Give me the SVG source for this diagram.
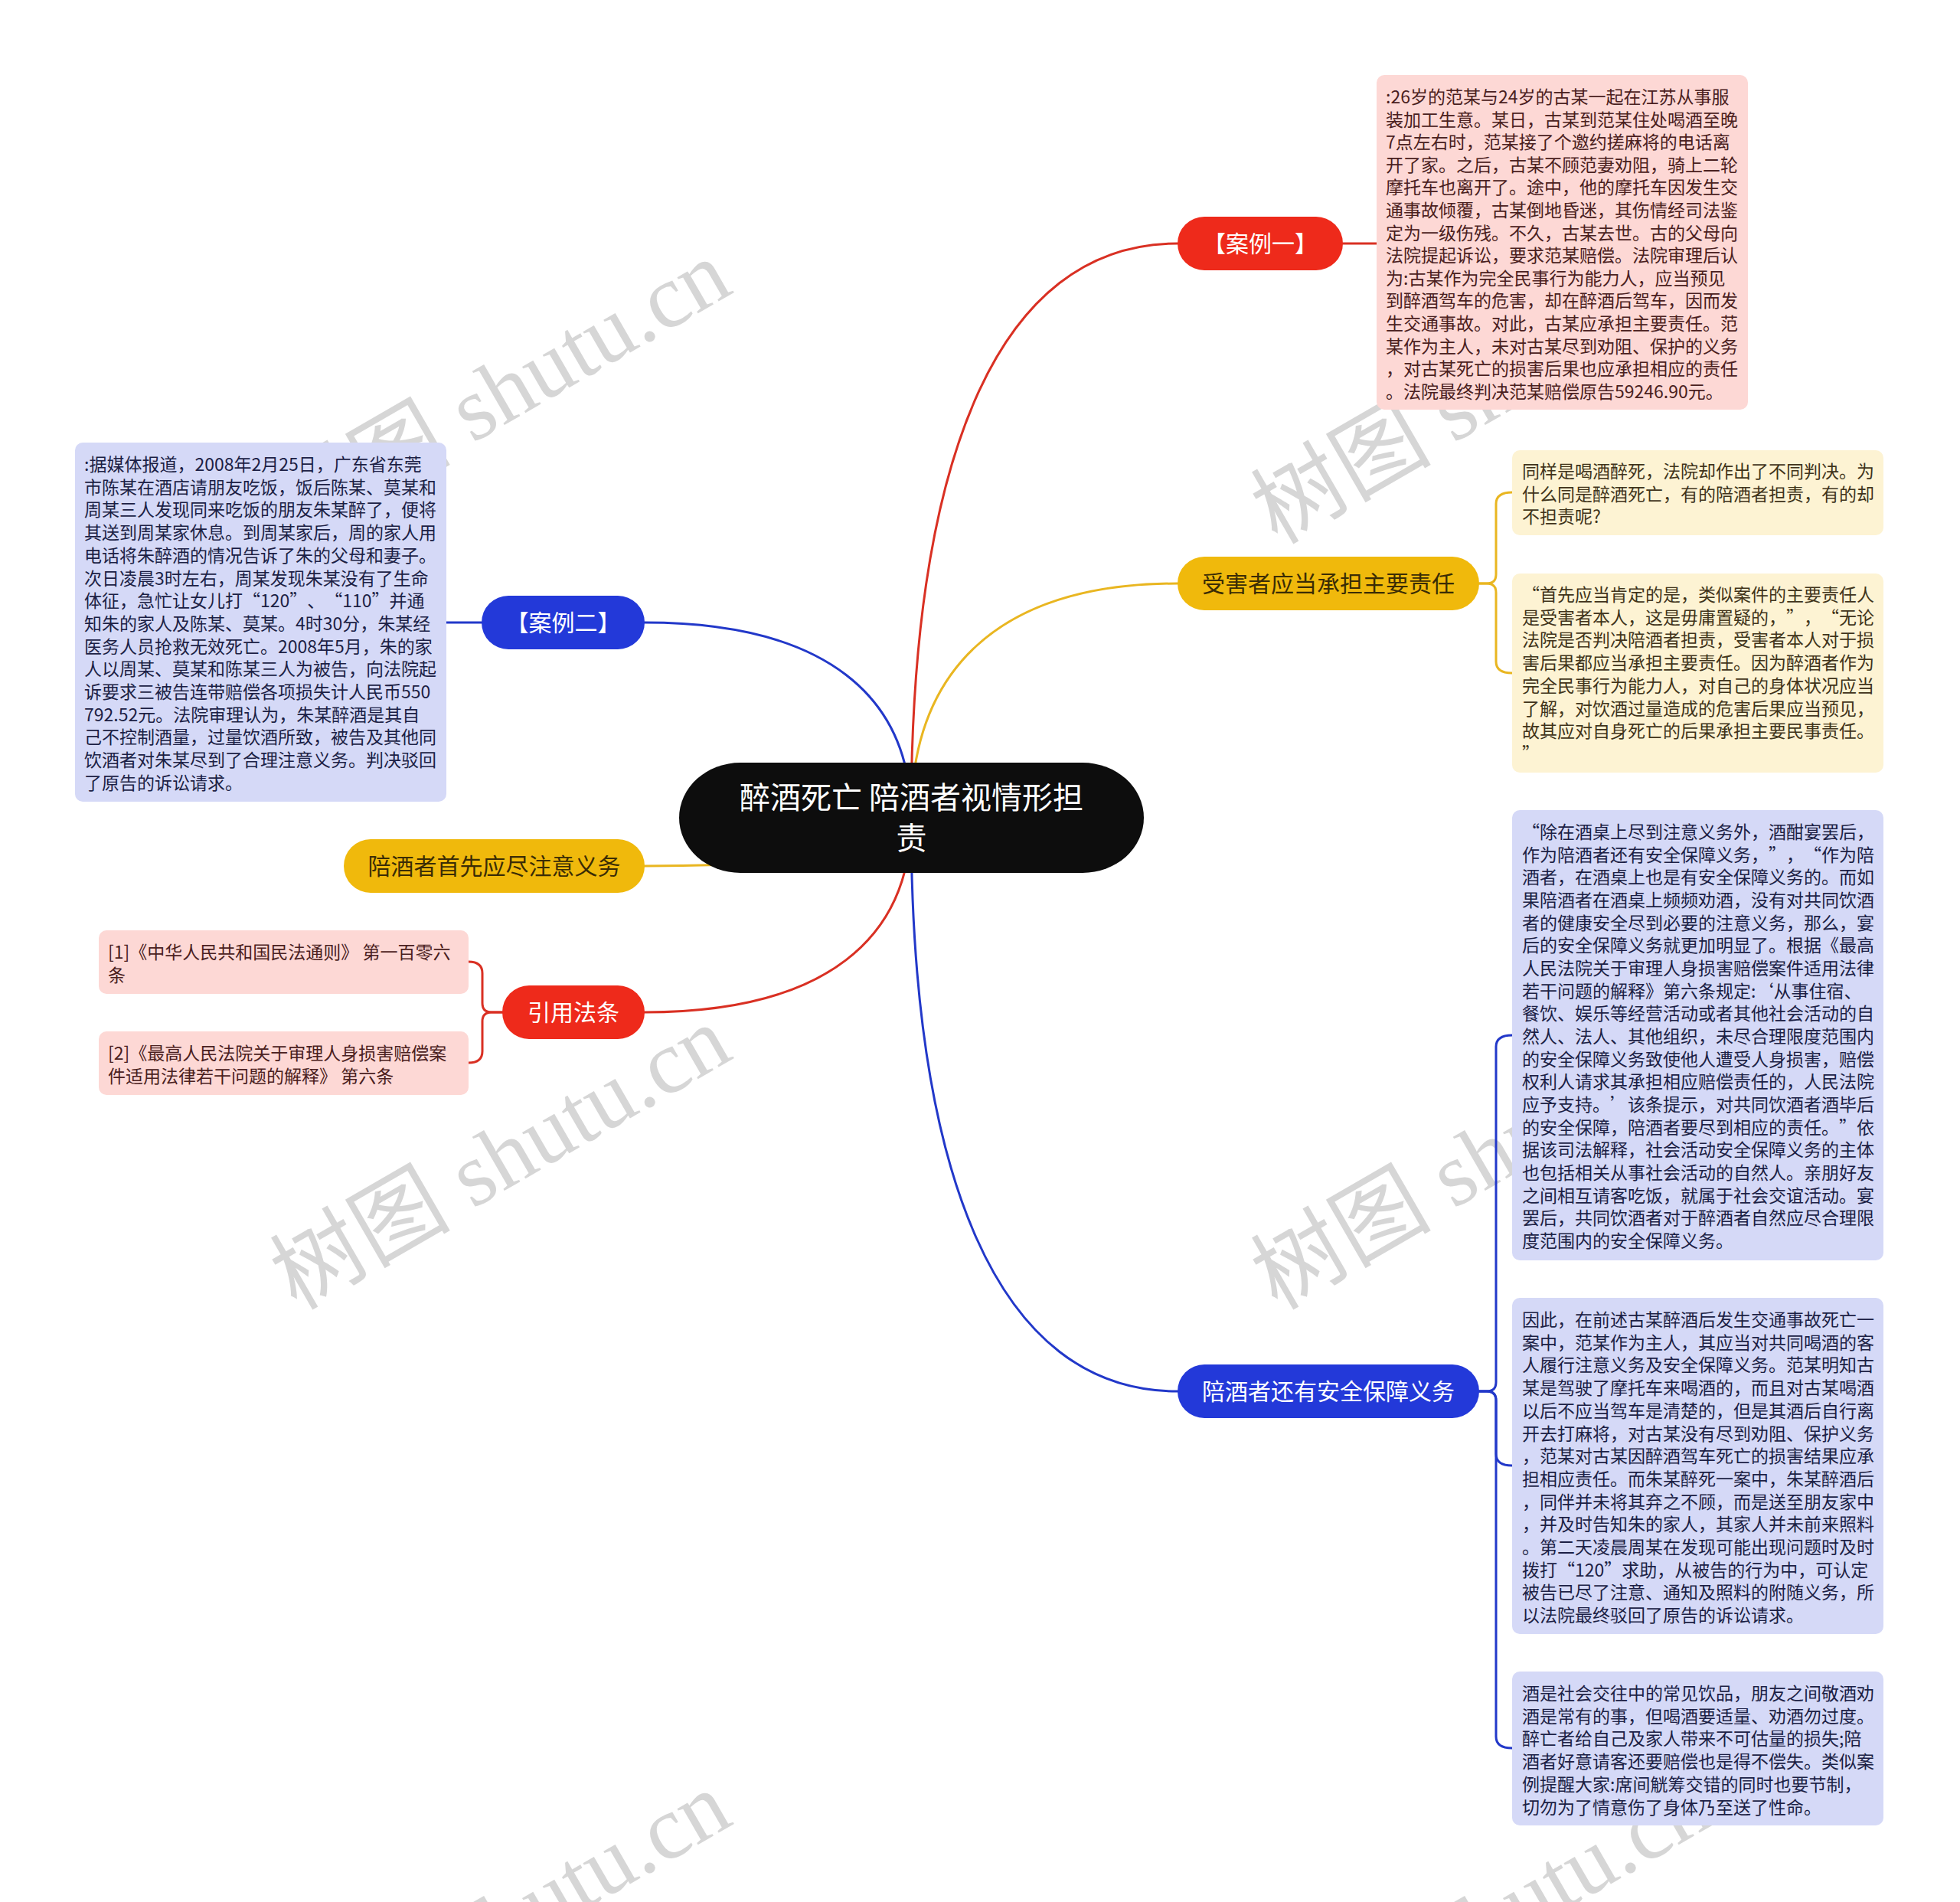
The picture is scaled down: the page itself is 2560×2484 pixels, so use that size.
<svg xmlns="http://www.w3.org/2000/svg" width="2560" height="2484" viewBox="0 0 2560 2484">
<style>
text{font-family:"Noto Sans CJK SC","Noto Sans",sans-serif;text-spacing-trim:space-all;}
.wm{font-family:"Liberation Serif","Noto Sans CJK SC",serif;font-size:118px;fill:#d6d6d6;}
.c{fill:none;stroke-width:3;stroke-linecap:round}
.r{stroke:#d93023}.y{stroke:#e9b621}.b{stroke:#2238c9}
.leaf{font-size:23px}
.pk{fill:#fdd8d5}.lv{fill:#d5d9f7}.cr{fill:#fdf3d3}
.tp{fill:#4a2020}.tl{fill:#1c1f45}.tc{fill:#40331a}
.bn{font-size:30px;text-anchor:middle}
.nr{fill:#ee2a1b}.ny{fill:#f0b90c}.nb{fill:#2339d9}
.w{fill:#ffffff}.d{fill:#3a2c05}
</style>
<rect x="0" y="0" width="2560" height="2484" fill="#ffffff"/>
<g id="watermarks">
<text class="wm" transform="translate(387,1712) rotate(-30)">树图 shutu.cn</text>
<text class="wm" transform="translate(387,712) rotate(-30)">树图 shutu.cn</text>
<text class="wm" transform="translate(387,2712) rotate(-30)">树图 shutu.cn</text>
<text class="wm" transform="translate(1668,712) rotate(-30)">树图 shutu.cn</text>
<text class="wm" transform="translate(1668,1712) rotate(-30)">树图 shutu.cn</text>
<text class="wm" transform="translate(1668,2712) rotate(-30)">树图 shutu.cn</text>
</g>
<g id="connectors">
<path class="c r" d="M1190,1068 C1190,603 1301,318 1538,318"/>
<path class="c y" d="M1190,1068 C1190,878 1301,762 1538,762"/>
<path class="c b" d="M1190,1068 C1190,1532 1301,1817 1538,1817"/>
<path class="c b" d="M1190,1068 C1190,910 1079,813 842,813"/>
<path class="c y" d="M1190,1068 C1190,1107 1079,1131 842,1131"/>
<path class="c r" d="M1190,1068 C1190,1225 1079,1322 842,1322"/>
<path class="c r" d="M1754,318 L1798,318"/>
<path class="c b" d="M629,813 L583,813"/>
<path class="c y" d="M1932,762 L1942,762 Q1954,762 1954,750 L1954,658 Q1954,643 1975,643"/>
<path class="c y" d="M1932,762 L1942,762 Q1954,762 1954,774 L1954,864 Q1954,879 1975,879"/>
<path class="c b" d="M1932,1817 L1942,1817 Q1954,1817 1954,1805 L1954,1367 Q1954,1352 1975,1352"/>
<path class="c b" d="M1932,1817 L1942,1817 Q1954,1817 1954,1829 L1954,1899 Q1954,1914 1975,1914"/>
<path class="c b" d="M1932,1817 L1942,1817 Q1954,1817 1954,1829 L1954,2268 Q1954,2283 1975,2283"/>
<path class="c r" d="M656,1322 L642,1322 Q630,1322 630,1310 L630,1271 Q630,1256 612,1256"/>
<path class="c r" d="M656,1322 L642,1322 Q630,1322 630,1334 L630,1373 Q630,1388 612,1388"/>
</g>
<g id="center">
<rect x="887" y="996" width="607" height="144" rx="80" ry="72" fill="#0d0d0d"/>
<text x="1190.5" y="1056" font-size="40" text-anchor="middle" class="w">醉酒死亡 陪酒者视情形担</text>
<text x="1190.5" y="1109" font-size="40" text-anchor="middle" class="w">责</text>
</g>
<g id="case1">
<rect class="nr" x="1538" y="283" width="216" height="70" rx="35"/>
<text class="bn w" x="1646" y="329">【案例一】</text>
</g>
<g id="victim">
<rect class="ny" x="1538" y="727" width="394" height="70" rx="35"/>
<text class="bn d" x="1735" y="773">受害者应当承担主要责任</text>
</g>
<g id="safety">
<rect class="nb" x="1538" y="1782" width="394" height="70" rx="35"/>
<text class="bn w" x="1735" y="1828">陪酒者还有安全保障义务</text>
</g>
<g id="case2">
<rect class="nb" x="629" y="778" width="213" height="70" rx="35"/>
<text class="bn w" x="735.5" y="824">【案例二】</text>
</g>
<g id="attention">
<rect class="ny" x="449" y="1096" width="393" height="70" rx="35"/>
<text class="bn d" x="645.5" y="1142">陪酒者首先应尽注意义务</text>
</g>
<g id="laws">
<rect class="nr" x="656" y="1287" width="186" height="70" rx="35"/>
<text class="bn w" x="749" y="1333">引用法条</text>
</g>
<g id="case1-text">
<rect class="pk" x="1798" y="98" width="485" height="437" rx="10"/>
<text class="leaf tp" x="1810" y="135">
<tspan x="1810" dy="0">:26岁的范某与24岁的古某一起在江苏从事服</tspan>
<tspan x="1810" dy="29.6">装加工生意。某日，古某到范某住处喝酒至晚</tspan>
<tspan x="1810" dy="29.6">7点左右时，范某接了个邀约搓麻将的电话离</tspan>
<tspan x="1810" dy="29.6">开了家。之后，古某不顾范妻劝阻，骑上二轮</tspan>
<tspan x="1810" dy="29.6">摩托车也离开了。途中，他的摩托车因发生交</tspan>
<tspan x="1810" dy="29.6">通事故倾覆，古某倒地昏迷，其伤情经司法鉴</tspan>
<tspan x="1810" dy="29.6">定为一级伤残。不久，古某去世。古的父母向</tspan>
<tspan x="1810" dy="29.6">法院提起诉讼，要求范某赔偿。法院审理后认</tspan>
<tspan x="1810" dy="29.6">为:古某作为完全民事行为能力人，应当预见</tspan>
<tspan x="1810" dy="29.6">到醉酒驾车的危害，却在醉酒后驾车，因而发</tspan>
<tspan x="1810" dy="29.6">生交通事故。对此，古某应承担主要责任。范</tspan>
<tspan x="1810" dy="29.6">某作为主人，未对古某尽到劝阻、保护的义务</tspan>
<tspan x="1810" dy="29.6">，对古某死亡的损害后果也应承担相应的责任</tspan>
<tspan x="1810" dy="29.6">。法院最终判决范某赔偿原告59246.90元。</tspan>
</text>
</g>
<g id="case2-text">
<rect class="lv" x="98" y="578" width="485" height="469" rx="10"/>
<text class="leaf tl" x="110" y="615">
<tspan x="110" dy="0">:据媒体报道，2008年2月25日，广东省东莞</tspan>
<tspan x="110" dy="29.7">市陈某在酒店请朋友吃饭，饭后陈某、莫某和</tspan>
<tspan x="110" dy="29.7">周某三人发现同来吃饭的朋友朱某醉了，便将</tspan>
<tspan x="110" dy="29.7">其送到周某家休息。到周某家后，周的家人用</tspan>
<tspan x="110" dy="29.7">电话将朱醉酒的情况告诉了朱的父母和妻子。</tspan>
<tspan x="110" dy="29.7">次日凌晨3时左右，周某发现朱某没有了生命</tspan>
<tspan x="110" dy="29.7">体征，急忙让女儿打“120”、“110”并通</tspan>
<tspan x="110" dy="29.7">知朱的家人及陈某、莫某。4时30分，朱某经</tspan>
<tspan x="110" dy="29.7">医务人员抢救无效死亡。2008年5月，朱的家</tspan>
<tspan x="110" dy="29.7">人以周某、莫某和陈某三人为被告，向法院起</tspan>
<tspan x="110" dy="29.7">诉要求三被告连带赔偿各项损失计人民币550</tspan>
<tspan x="110" dy="29.7">792.52元。法院审理认为，朱某醉酒是其自</tspan>
<tspan x="110" dy="29.7">己不控制酒量，过量饮酒所致，被告及其他同</tspan>
<tspan x="110" dy="29.7">饮酒者对朱某尽到了合理注意义务。判决驳回</tspan>
<tspan x="110" dy="29.7">了原告的诉讼请求。</tspan>
</text>
</g>
<g id="victim-text1">
<rect class="cr" x="1975" y="588" width="485" height="111" rx="10"/>
<text class="leaf tc" x="1988" y="624">
<tspan x="1988" dy="0">同样是喝酒醉死，法院却作出了不同判决。为</tspan>
<tspan x="1988" dy="29.7">什么同是醉酒死亡，有的陪酒者担责，有的却</tspan>
<tspan x="1988" dy="29.7">不担责呢?</tspan>
</text>
</g>
<g id="victim-text2">
<rect class="cr" x="1975" y="749" width="485" height="260" rx="10"/>
<text class="leaf tc" x="1988" y="785">
<tspan x="1988" dy="0">“首先应当肯定的是，类似案件的主要责任人</tspan>
<tspan x="1988" dy="29.7">是受害者本人，这是毋庸置疑的，”，“无论</tspan>
<tspan x="1988" dy="29.7">法院是否判决陪酒者担责，受害者本人对于损</tspan>
<tspan x="1988" dy="29.7">害后果都应当承担主要责任。因为醉酒者作为</tspan>
<tspan x="1988" dy="29.7">完全民事行为能力人，对自己的身体状况应当</tspan>
<tspan x="1988" dy="29.7">了解，对饮酒过量造成的危害后果应当预见，</tspan>
<tspan x="1988" dy="29.7">故其应对自身死亡的后果承担主要民事责任。</tspan>
<tspan x="1988" dy="29.7">”</tspan>
</text>
</g>
<g id="safety-text1">
<rect class="lv" x="1975" y="1058" width="485" height="588" rx="10"/>
<text class="leaf tl" x="1988" y="1095">
<tspan x="1988" dy="0">“除在酒桌上尽到注意义务外，酒酣宴罢后，</tspan>
<tspan x="1988" dy="29.67">作为陪酒者还有安全保障义务，”，“作为陪</tspan>
<tspan x="1988" dy="29.67">酒者，在酒桌上也是有安全保障义务的。而如</tspan>
<tspan x="1988" dy="29.67">果陪酒者在酒桌上频频劝酒，没有对共同饮酒</tspan>
<tspan x="1988" dy="29.67">者的健康安全尽到必要的注意义务，那么，宴</tspan>
<tspan x="1988" dy="29.67">后的安全保障义务就更加明显了。根据《最高</tspan>
<tspan x="1988" dy="29.67">人民法院关于审理人身损害赔偿案件适用法律</tspan>
<tspan x="1988" dy="29.67">若干问题的解释》第六条规定:‘从事住宿、</tspan>
<tspan x="1988" dy="29.67">餐饮、娱乐等经营活动或者其他社会活动的自</tspan>
<tspan x="1988" dy="29.67">然人、法人、其他组织，未尽合理限度范围内</tspan>
<tspan x="1988" dy="29.67">的安全保障义务致使他人遭受人身损害，赔偿</tspan>
<tspan x="1988" dy="29.67">权利人请求其承担相应赔偿责任的，人民法院</tspan>
<tspan x="1988" dy="29.67">应予支持。’该条提示，对共同饮酒者酒毕后</tspan>
<tspan x="1988" dy="29.67">的安全保障，陪酒者要尽到相应的责任。”依</tspan>
<tspan x="1988" dy="29.67">据该司法解释，社会活动安全保障义务的主体</tspan>
<tspan x="1988" dy="29.67">也包括相关从事社会活动的自然人。亲朋好友</tspan>
<tspan x="1988" dy="29.67">之间相互请客吃饭，就属于社会交谊活动。宴</tspan>
<tspan x="1988" dy="29.67">罢后，共同饮酒者对于醉酒者自然应尽合理限</tspan>
<tspan x="1988" dy="29.67">度范围内的安全保障义务。</tspan>
</text>
</g>
<g id="safety-text2">
<rect class="lv" x="1975" y="1695" width="485" height="439" rx="10"/>
<text class="leaf tl" x="1988" y="1732">
<tspan x="1988" dy="0">因此，在前述古某醉酒后发生交通事故死亡一</tspan>
<tspan x="1988" dy="29.7">案中，范某作为主人，其应当对共同喝酒的客</tspan>
<tspan x="1988" dy="29.7">人履行注意义务及安全保障义务。范某明知古</tspan>
<tspan x="1988" dy="29.7">某是驾驶了摩托车来喝酒的，而且对古某喝酒</tspan>
<tspan x="1988" dy="29.7">以后不应当驾车是清楚的，但是其酒后自行离</tspan>
<tspan x="1988" dy="29.7">开去打麻将，对古某没有尽到劝阻、保护义务</tspan>
<tspan x="1988" dy="29.7">，范某对古某因醉酒驾车死亡的损害结果应承</tspan>
<tspan x="1988" dy="29.7">担相应责任。而朱某醉死一案中，朱某醉酒后</tspan>
<tspan x="1988" dy="29.7">，同伴并未将其弃之不顾，而是送至朋友家中</tspan>
<tspan x="1988" dy="29.7">，并及时告知朱的家人，其家人并未前来照料</tspan>
<tspan x="1988" dy="29.7">。第二天凌晨周某在发现可能出现问题时及时</tspan>
<tspan x="1988" dy="29.7">拨打“120”求助，从被告的行为中，可认定</tspan>
<tspan x="1988" dy="29.7">被告已尽了注意、通知及照料的附随义务，所</tspan>
<tspan x="1988" dy="29.7">以法院最终驳回了原告的诉讼请求。</tspan>
</text>
</g>
<g id="safety-text3">
<rect class="lv" x="1975" y="2183" width="485" height="201" rx="10"/>
<text class="leaf tl" x="1988" y="2220">
<tspan x="1988" dy="0">酒是社会交往中的常见饮品，朋友之间敬酒劝</tspan>
<tspan x="1988" dy="29.7">酒是常有的事，但喝酒要适量、劝酒勿过度。</tspan>
<tspan x="1988" dy="29.7">醉亡者给自己及家人带来不可估量的损失;陪</tspan>
<tspan x="1988" dy="29.7">酒者好意请客还要赔偿也是得不偿失。类似案</tspan>
<tspan x="1988" dy="29.7">例提醒大家:席间觥筹交错的同时也要节制，</tspan>
<tspan x="1988" dy="29.7">切勿为了情意伤了身体乃至送了性命。</tspan>
</text>
</g>
<g id="law1">
<rect class="pk" x="129" y="1215" width="483" height="83" rx="10"/>
<text class="leaf tp" x="141" y="1252">
<tspan x="141" dy="0">[1]《中华人民共和国民法通则》 第一百零六</tspan>
<tspan x="141" dy="30">条</tspan>
</text>
</g>
<g id="law2">
<rect class="pk" x="129" y="1347" width="483" height="83" rx="10"/>
<text class="leaf tp" x="141" y="1384">
<tspan x="141" dy="0">[2]《最高人民法院关于审理人身损害赔偿案</tspan>
<tspan x="141" dy="30">件适用法律若干问题的解释》 第六条</tspan>
</text>
</g>
</svg>
